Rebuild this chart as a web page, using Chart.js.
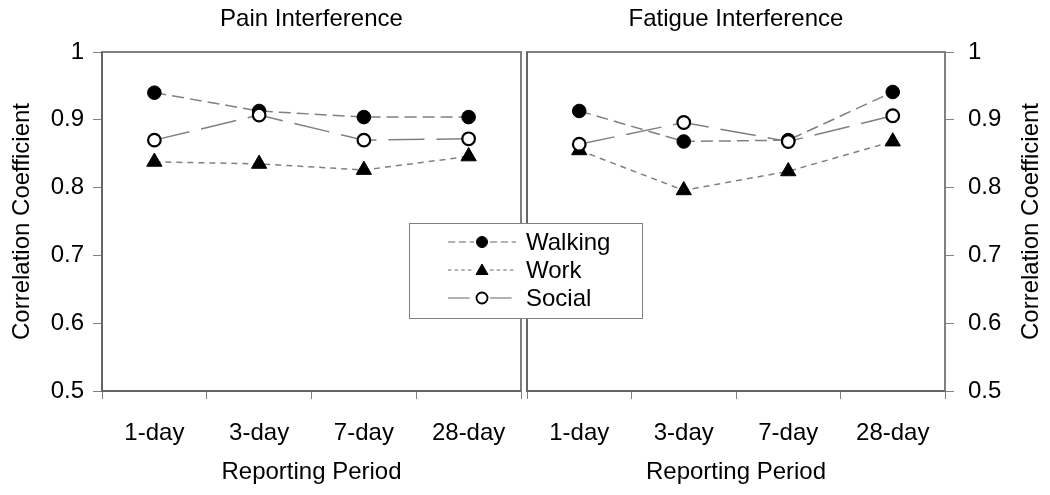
<!DOCTYPE html>
<html lang="en">
<head>
<meta charset="UTF-8">
<title>Correlation by reporting period</title>
<script src="https://cdn.jsdelivr.net/npm/chart.js@4.4.1/dist/chart.umd.min.js"></script>
<style>
  html, body { margin: 0; padding: 0; background: #fff; }
  #wrap { position: relative; width: 1050px; height: 495px; }
  #wrap canvas { position: absolute; left: 0; top: 0; }
</style>
</head>
<body>
<div id="wrap">
  <canvas id="pain" width="1050" height="495"></canvas>
  <canvas id="fatigue" width="1050" height="495"></canvas>
</div>
<script>
// data
const periods = ['1-day', '3-day', '7-day', '28-day'];
const painWalking = [0.940, 0.913, 0.904, 0.904];
const painWork = [0.838, 0.835, 0.826, 0.846];
const painSocial = [0.870, 0.907, 0.870, 0.872];
const fatigueWalking = [0.913, 0.868, 0.870, 0.941];
const fatigueWork = [0.855, 0.796, 0.824, 0.868];
const fatigueSocial = [0.864, 0.896, 0.868, 0.906];
const yMin = 0.5, yMax = 1, yStep = 0.1;

const FONT = "'Liberation Sans', Arial, sans-serif";
const GRAY = '#808080';

function makeSets(walk, work, social) {
  return [
    { label: 'Walking', data: walk, order: 3, borderColor: GRAY, borderWidth: 1.5, borderDash: [12, 6],
      pointStyle: 'circle', pointRadius: 6.8, pointBackgroundColor: '#000', pointBorderColor: '#000', pointBorderWidth: 1 },
    { label: 'Work', data: work, order: 2, borderColor: GRAY, borderWidth: 1.5, borderDash: [6, 5],
      pointStyle: 'triangle', pointRadius: 8.8, pointBackgroundColor: '#000', pointBorderColor: '#000', pointBorderWidth: 1 },
    { label: 'Social', data: social, order: 1, borderColor: GRAY, borderWidth: 1.5, borderDash: [36, 12],
      pointStyle: 'circle', pointRadius: 6.3, pointBackgroundColor: '#fff', pointBorderColor: '#000', pointBorderWidth: 2.2 }
  ];
}

// box round the plot area
const frame = {
  id: 'frame',
  afterDatasetsDraw(chart) {
    const a = chart.chartArea, ctx = chart.ctx;
    ctx.save();
    ctx.strokeStyle = GRAY;
    ctx.lineWidth = 2;
    ctx.strokeRect(a.left, a.top, a.right - a.left, a.bottom - a.top);
    ctx.strokeStyle = '#666';
    ctx.beginPath();
    ctx.moveTo(a.left, a.top); ctx.lineTo(a.left, a.bottom); ctx.lineTo(a.right, a.bottom);
    ctx.stroke();
    ctx.restore();
  }
};

// right hand axis title, read bottom to top like the left one
const rightTitle = {
  id: 'rightTitle',
  afterDraw(chart) {
    const ctx = chart.ctx, a = chart.chartArea;
    ctx.save();
    ctx.translate(1031, (a.top + a.bottom) / 2);
    ctx.rotate(-Math.PI / 2);
    ctx.font = '24px ' + FONT;
    ctx.fillStyle = '#000';
    ctx.textAlign = 'center';
    ctx.textBaseline = 'middle';
    ctx.fillText('Correlation Coefficient', 0, 0);
    ctx.restore();
  }
};

// shared legend box sitting over both panels
const legendBox = {
  id: 'legendBox',
  afterDraw(chart) {
    const ctx = chart.ctx;
    const sets = chart.data.datasets;
    ctx.save();
    ctx.fillStyle = '#fff';
    ctx.fillRect(409, 223, 233, 95);
    ctx.strokeStyle = GRAY;
    ctx.lineWidth = 1;
    ctx.strokeRect(409.5, 223.5, 233, 95);
    sets.forEach((ds, i) => {
      const y = 242 + i * 28;
      ctx.strokeStyle = '#666';
      ctx.lineWidth = 1.2;
      ctx.setLineDash(ds.borderDash.map(d => d * 0.6));
      ctx.beginPath();
      ctx.moveTo(448, y); ctx.lineTo(474, y);
      ctx.moveTo(490, y); ctx.lineTo(516, y);
      ctx.stroke();
      ctx.setLineDash([]);
      ctx.fillStyle = ds.pointBackgroundColor;
      ctx.strokeStyle = ds.pointBorderColor;
      ctx.lineWidth = ds.pointStyle === 'circle' && ds.pointBackgroundColor === '#fff' ? 1.8 : 1;
      ctx.beginPath();
      if (ds.pointStyle === 'triangle') {
        ctx.moveTo(482, y - 6); ctx.lineTo(488, y + 4.5); ctx.lineTo(476, y + 4.5); ctx.closePath();
      } else {
        ctx.arc(482, y, 5.5, 0, Math.PI * 2);
      }
      ctx.fill(); ctx.stroke();
      ctx.fillStyle = '#000';
      ctx.font = '24px ' + FONT;
      ctx.textAlign = 'left';
      ctx.textBaseline = 'middle';
      ctx.fillText(ds.label, 526, y + 1);
    });
    ctx.restore();
  }
};

function makeChart(id, title, sets, side) {
  const left = side === 'left';
  return new Chart(document.getElementById(id), {
    type: 'line',
    data: { labels: periods, datasets: sets },
    options: {
      responsive: false,
      animation: false,
      layout: { padding: left ? { left: 0, right: 529, top: 0, bottom: 0 } : { left: 527, right: 0, top: 0, bottom: 0 } },
      plugins: {
        legend: { display: false },
        tooltip: { enabled: false },
        title: {
          display: true, text: title, fullSize: false, color: '#000',
          font: { family: FONT, size: 24, weight: 'normal' },
          padding: { top: 5, bottom: 18.2 }
        }
      },
      scales: {
        x: {
          offset: true,
          border: { display: false },
          grid: { offset: true, drawOnChartArea: false, drawTicks: true, tickLength: 8, color: GRAY },
          ticks: { color: '#000', font: { family: FONT, size: 24 }, padding: 20, maxRotation: 0, autoSkip: false },
          title: { display: true, text: 'Reporting Period', color: '#000', font: { family: FONT, size: 24 }, padding: { top: 0, bottom: 8 } },
          afterFit: s => { s.height = 104; }
        },
        y: {
          position: left ? 'left' : 'right',
          min: yMin, max: yMax,
          border: { display: false },
          grid: { drawOnChartArea: false, drawTicks: true, tickLength: 9, color: GRAY },
          ticks: { stepSize: yStep, color: '#000', font: { family: FONT, size: 24 }, padding: left ? 9 : 14,
                   callback: v => String(Number(v.toFixed(1))) },
          title: { display: left, text: 'Correlation Coefficient', color: '#000', font: { family: FONT, size: 24 }, padding: { top: 8, bottom: 0 } },
          afterFit: s => { s.width = left ? 102 : 105; }
        }
      }
    },
    plugins: left ? [frame] : [frame, rightTitle, legendBox]
  });
}

makeChart('pain', 'Pain Interference', makeSets(painWalking, painWork, painSocial), 'left');
makeChart('fatigue', 'Fatigue Interference', makeSets(fatigueWalking, fatigueWork, fatigueSocial), 'right');
</script>
</body>
</html>
